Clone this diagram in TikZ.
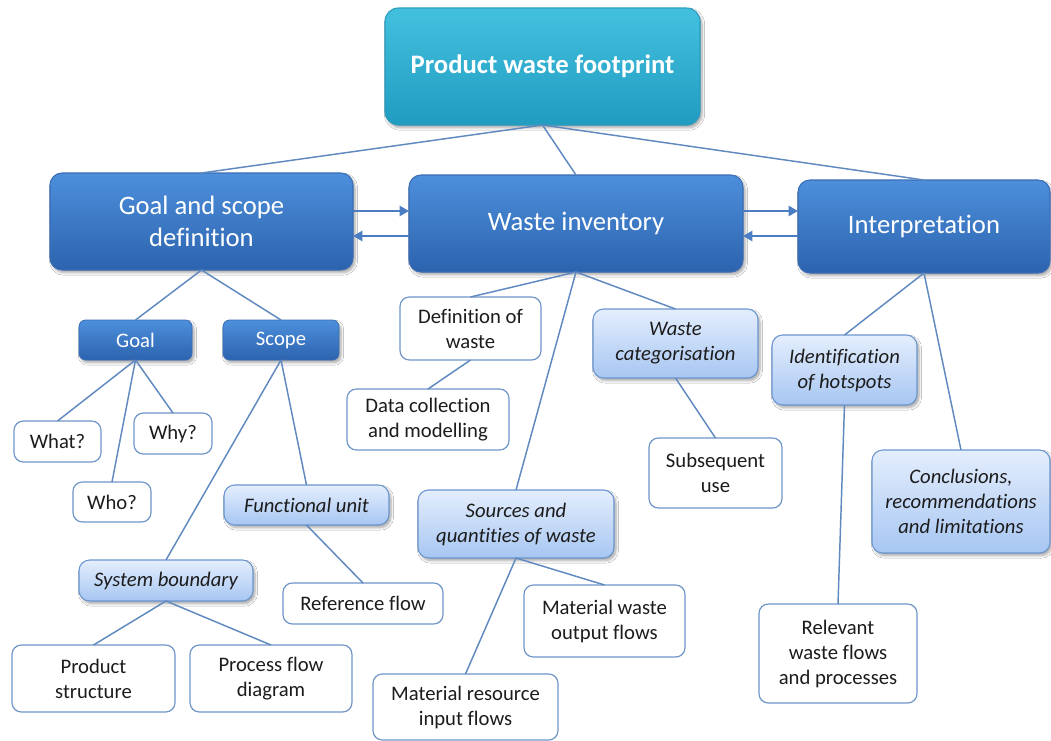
\documentclass[tikz,border=0pt]{standalone}
\usepackage{fontspec}
\setmainfont[Ligatures={NoCommon,NoContextual}]{Carlito}
\usetikzlibrary{shadows.blur,arrows.meta}
\definecolor{tealtop}{HTML}{44C0DF}
\definecolor{tealbot}{HTML}{1F9CC0}
\definecolor{tealdraw}{HTML}{2C9CBE}
\definecolor{dbtop}{HTML}{4D8FDB}
\definecolor{dbbot}{HTML}{2C63AE}
\definecolor{dbdraw}{HTML}{3A6DB5}
\definecolor{lbtop}{HTML}{E4EEFD}
\definecolor{lbbot}{HTML}{A7C6F2}
\definecolor{lbdraw}{HTML}{6B96CF}
\definecolor{wdraw}{HTML}{7096C8}
\definecolor{conn}{HTML}{6089C0}
\definecolor{arrc}{HTML}{4A7DC2}
\definecolor{txt}{HTML}{1C1C1C}
\newcommand\bx[7]{\node[#6, minimum width={(#4-#2)*0.75pt}, minimum height={(#5-#3)*0.75pt}] (#1) at ({(#2+#4)/2},{(#3+#5)/2}) {#7};}
\tikzset{
  base/.style={inner sep=0pt, outer sep=0pt, align=center},
  sh/.style={blur shadow={shadow xshift=1.5pt, shadow yshift=-2pt, shadow opacity=35, shadow blur steps=6}},
  topbox/.style={base, sh, rounded corners=10pt, top color=tealtop, bottom color=tealbot, draw=tealdraw, line width=0.8pt, text=white, font=\fontsize{20}{24}\selectfont\bfseries},
  mainbox/.style={base, sh, rounded corners=9pt, top color=dbtop, bottom color=dbbot, draw=dbdraw, line width=0.8pt, text=white, font=\fontsize{20}{23.5}\selectfont},
  darksmall/.style={base, sh, rounded corners=5pt, top color=dbtop, bottom color=dbbot, draw=dbdraw, line width=0.6pt, text=white, font=\fontsize{15.5}{18.75}\selectfont},
  lightbox/.style={base, sh, rounded corners=8pt, top color=lbtop, bottom color=lbbot, draw=lbdraw, line width=0.8pt, text=txt, font=\fontsize{15.5}{18.75}\selectfont\itshape},
  whitebox/.style={base, rounded corners=7pt, fill=white, draw=wdraw, line width=0.9pt, text=txt, font=\fontsize{15.5}{18.75}\selectfont},
  conline/.style={draw=conn, line width=1.1pt},
  arr/.style={draw=arrc, line width=2.2pt, -{Triangle[length=7pt,width=7.5pt]}}
}
\begin{document}
\begin{tikzpicture}[x=0.75pt, y=-0.75pt]
\useasboundingbox (0,0) rectangle (1051,740);
\fill[white] (0,0) rectangle (1051,740);
% nodes
\bx{top}{385}{8}{700}{125}{topbox}{Product waste footprint}
\bx{goalsc}{50}{173}{353}{270}{mainbox}{Goal and scope\\definition}
\bx{winv}{409}{175}{743}{272}{mainbox}{Waste inventory}
\bx{interp}{798}{180}{1050}{273}{mainbox}{Interpretation}
\bx{goal}{79}{320}{192}{360}{darksmall}{Goal}
\bx{scope}{223}{320}{339}{360}{darksmall}{Scope}
\bx{what}{14}{421}{101}{462}{whitebox}{What?}
\bx{why}{134}{413}{212}{454}{whitebox}{Why?}
\bx{who}{73}{482}{151}{522}{whitebox}{Who?}
\bx{func}{224}{485}{389}{525}{lightbox}{Functional unit}
\bx{sysb}{79}{560}{253}{601}{lightbox}{System boundary}
\bx{ref}{283}{583}{443}{624}{whitebox}{Reference flow}
\bx{prod}{12}{645}{175}{712}{whitebox}{Product\\structure}
\bx{proc}{190}{645}{352}{712}{whitebox}{Process flow\\diagram}
\bx{def}{400}{297}{541}{360}{whitebox}{Definition of\\waste}
\bx{data}{347}{389}{509}{450}{whitebox}{Data collection\\and modelling}
\bx{cat}{593}{309}{758}{378}{lightbox}{Waste\\categorisation}
\bx{sub}{649}{438}{782}{508}{whitebox}{Subsequent\\use}
\bx{src}{418}{490}{614}{558}{lightbox}{Sources and\\quantities of waste}
\bx{mwo}{524}{585}{685}{657}{whitebox}{Material waste\\output flows}
\bx{mri}{373}{674}{558}{740}{whitebox}{Material resource\\input flows}
\bx{hot}{772}{335}{917}{405}{lightbox}{Identification\\of hotspots}
\bx{conc}{872}{450}{1050}{553}{lightbox}{Conclusions,\\recommendations\\and limitations}
\bx{rel}{759}{604}{917}{703}{whitebox}{Relevant\\waste flows\\and processes}
% connectors
\draw[conline] (top.south) -- (goalsc.north);
\draw[conline] (top.south) -- (winv.north);
\draw[conline] (top.south) -- (interp.north);
\draw[conline] (goalsc.south) -- (goal.north);
\draw[conline] (goalsc.south) -- (scope.north);
\draw[conline] (goal.south) -- (what.north);
\draw[conline] (goal.south) -- (who.north);
\draw[conline] (goal.south) -- (why.north);
\draw[conline] (scope.south) -- (sysb.north);
\draw[conline] (scope.south) -- (func.north);
\draw[conline] (func.south) -- (ref.north);
\draw[conline] (sysb.south) -- (prod.north);
\draw[conline] (sysb.south) -- (proc.north);
\draw[conline] (winv.south) -- (def.north);
\draw[conline] (winv.south) -- (cat.north);
\draw[conline] (winv.south) -- (src.north);
\draw[conline] (def.south) -- (data.north);
\draw[conline] (cat.south) -- (sub.north);
\draw[conline] (src.south) -- (mwo.north);
\draw[conline] (src.south) -- (mri.north);
\draw[conline] (interp.south) -- (hot.north);
\draw[conline] (interp.south) -- (conc.north);
\draw[conline] (hot.south) -- (rel.north);
% arrows
\draw[arr] (goalsc.east |- 0,211) -- (winv.west |- 0,211);
\draw[arr] (winv.west |- 0,236) -- (goalsc.east |- 0,236);
\draw[arr] (winv.east |- 0,211) -- (interp.west |- 0,211);
\draw[arr] (interp.west |- 0,236) -- (winv.east |- 0,236);
\end{tikzpicture}
\end{document}
